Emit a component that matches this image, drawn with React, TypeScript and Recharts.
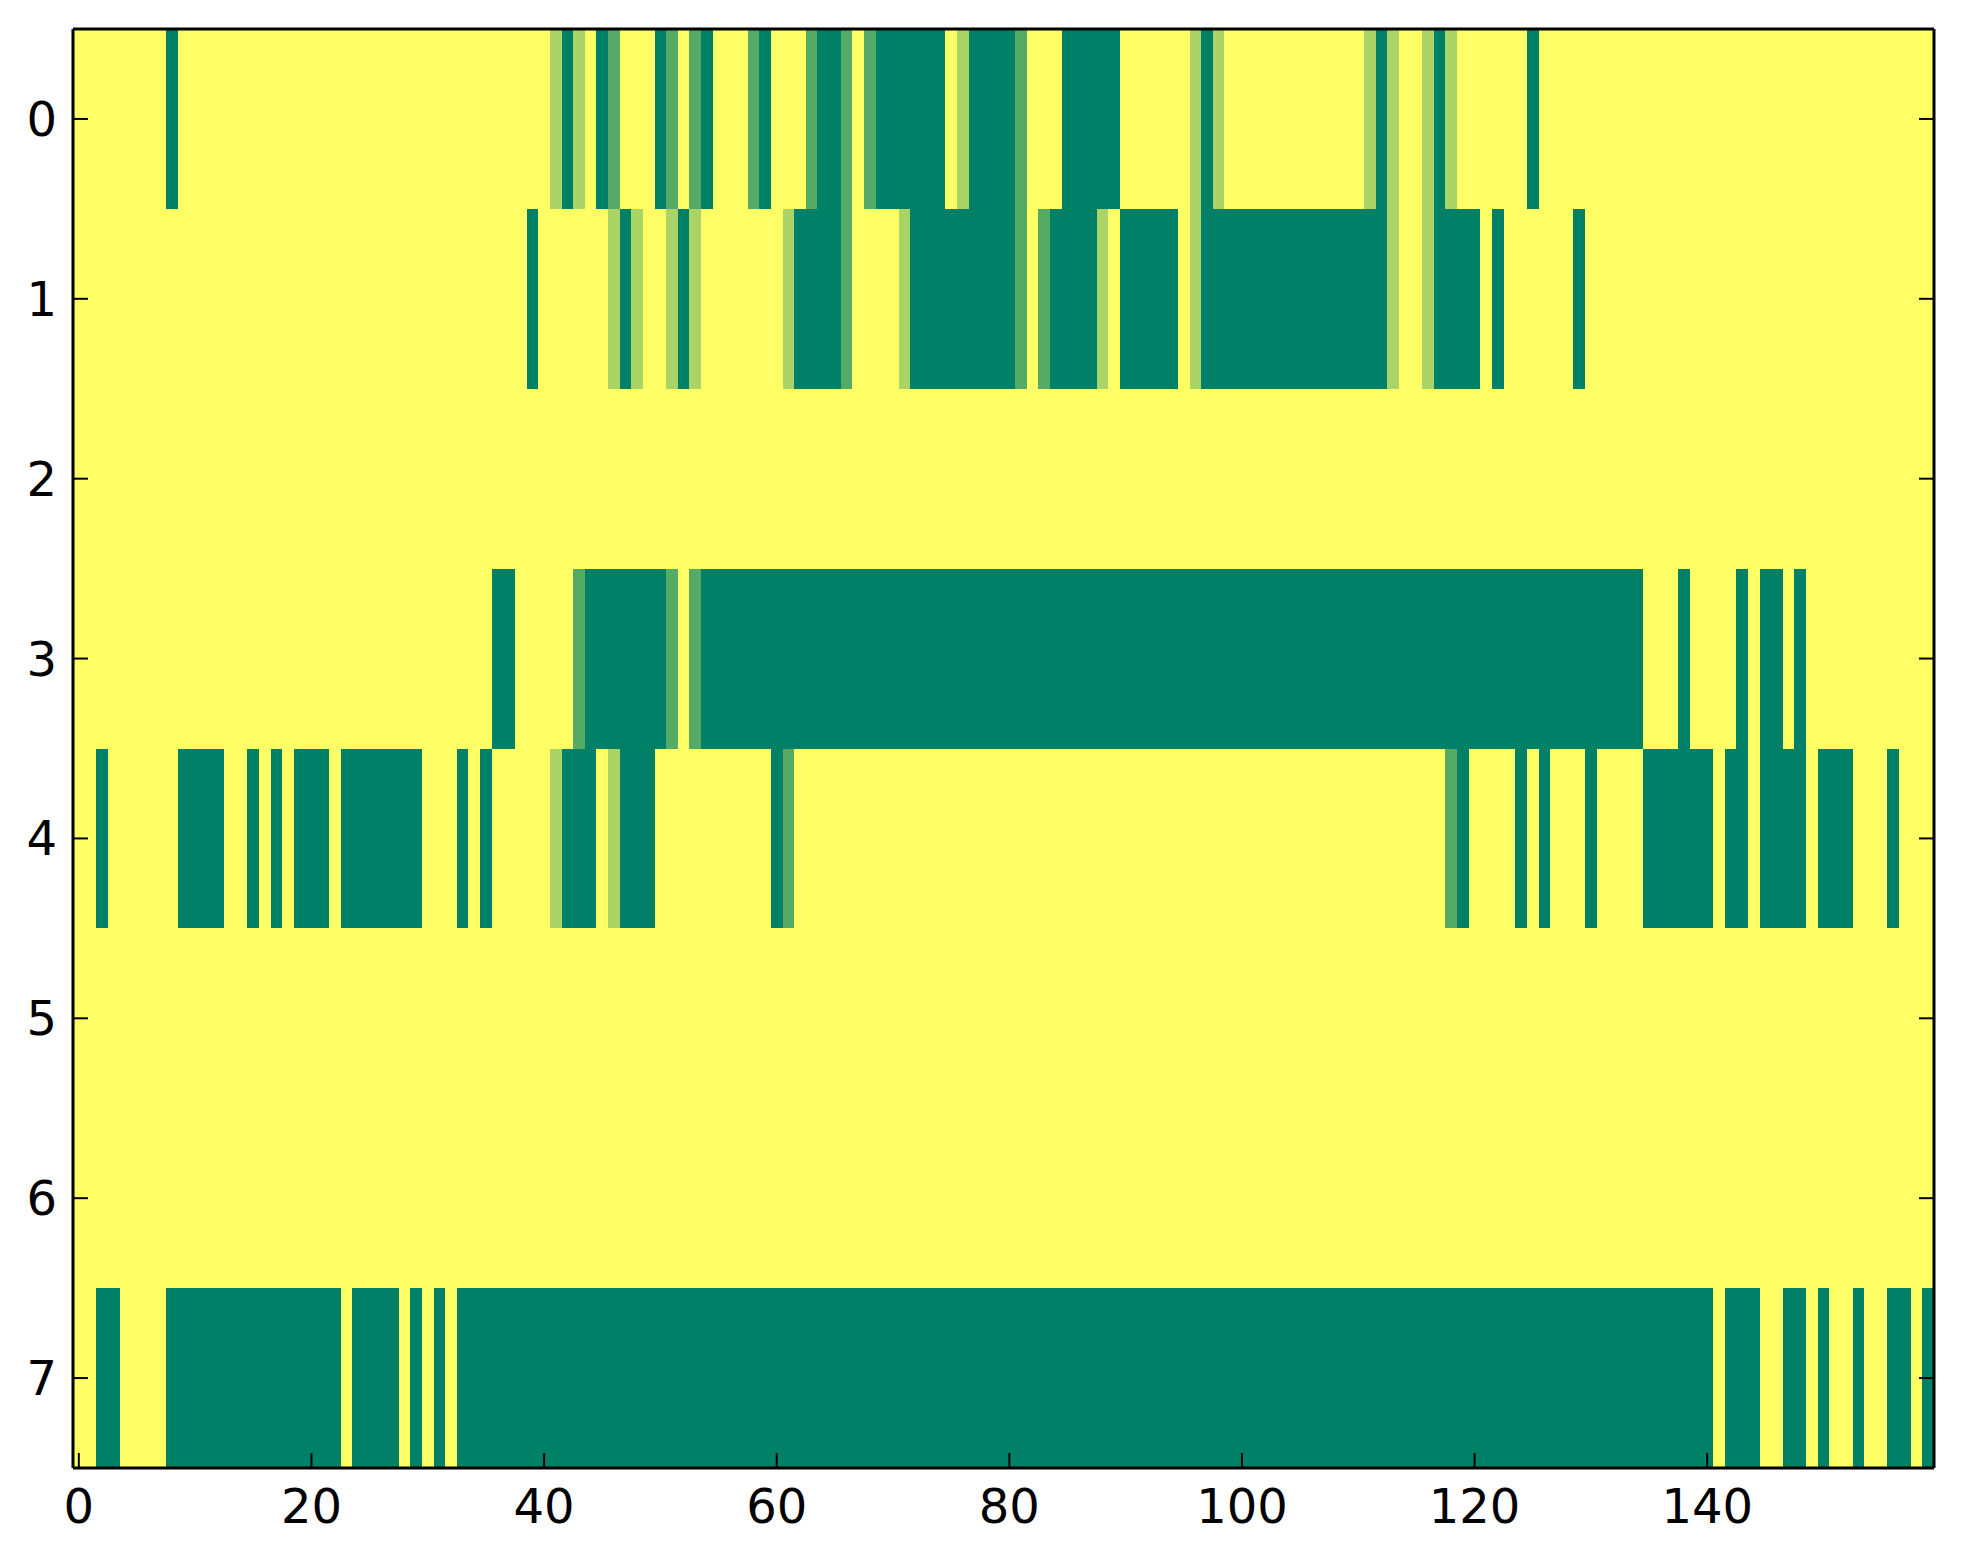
import React from 'react';
import { ScatterChart, Scatter, XAxis, YAxis } from 'recharts';

// level per cell: 0 = dark green, 1 = mid green, 2 = light green, 3 = yellow
// 160 columns per row, written 20 per line
const row0 = [
  3, 3, 3, 3, 3, 3, 3, 3, 0, 3, 3, 3, 3, 3, 3, 3, 3, 3, 3, 3,
  3, 3, 3, 3, 3, 3, 3, 3, 3, 3, 3, 3, 3, 3, 3, 3, 3, 3, 3, 3,
  3, 2, 0, 2, 3, 0, 1, 3, 3, 3, 0, 1, 3, 1, 0, 3, 3, 3, 1, 0,
  3, 3, 3, 1, 0, 0, 1, 3, 1, 0, 0, 0, 0, 0, 0, 3, 2, 0, 0, 0,
  0, 1, 3, 3, 3, 0, 0, 0, 0, 0, 3, 3, 3, 3, 3, 3, 2, 0, 2, 3,
  3, 3, 3, 3, 3, 3, 3, 3, 3, 3, 3, 2, 0, 2, 3, 3, 2, 0, 2, 3,
  3, 3, 3, 3, 3, 0, 3, 3, 3, 3, 3, 3, 3, 3, 3, 3, 3, 3, 3, 3,
  3, 3, 3, 3, 3, 3, 3, 3, 3, 3, 3, 3, 3, 3, 3, 3, 3, 3, 3, 3,
];
const row1 = [
  3, 3, 3, 3, 3, 3, 3, 3, 3, 3, 3, 3, 3, 3, 3, 3, 3, 3, 3, 3,
  3, 3, 3, 3, 3, 3, 3, 3, 3, 3, 3, 3, 3, 3, 3, 3, 3, 3, 3, 0,
  3, 3, 3, 3, 3, 3, 2, 0, 2, 3, 3, 2, 0, 2, 3, 3, 3, 3, 3, 3,
  3, 2, 0, 0, 0, 0, 1, 3, 3, 3, 3, 2, 0, 0, 0, 0, 0, 0, 0, 0,
  0, 1, 3, 1, 0, 0, 0, 0, 2, 3, 0, 0, 0, 0, 0, 3, 2, 0, 0, 0,
  0, 0, 0, 0, 0, 0, 0, 0, 0, 0, 0, 0, 0, 2, 3, 3, 2, 0, 0, 0,
  0, 3, 0, 3, 3, 3, 3, 3, 3, 0, 3, 3, 3, 3, 3, 3, 3, 3, 3, 3,
  3, 3, 3, 3, 3, 3, 3, 3, 3, 3, 3, 3, 3, 3, 3, 3, 3, 3, 3, 3,
];
const row2 = [
  3, 3, 3, 3, 3, 3, 3, 3, 3, 3, 3, 3, 3, 3, 3, 3, 3, 3, 3, 3,
  3, 3, 3, 3, 3, 3, 3, 3, 3, 3, 3, 3, 3, 3, 3, 3, 3, 3, 3, 3,
  3, 3, 3, 3, 3, 3, 3, 3, 3, 3, 3, 3, 3, 3, 3, 3, 3, 3, 3, 3,
  3, 3, 3, 3, 3, 3, 3, 3, 3, 3, 3, 3, 3, 3, 3, 3, 3, 3, 3, 3,
  3, 3, 3, 3, 3, 3, 3, 3, 3, 3, 3, 3, 3, 3, 3, 3, 3, 3, 3, 3,
  3, 3, 3, 3, 3, 3, 3, 3, 3, 3, 3, 3, 3, 3, 3, 3, 3, 3, 3, 3,
  3, 3, 3, 3, 3, 3, 3, 3, 3, 3, 3, 3, 3, 3, 3, 3, 3, 3, 3, 3,
  3, 3, 3, 3, 3, 3, 3, 3, 3, 3, 3, 3, 3, 3, 3, 3, 3, 3, 3, 3,
];
const row3 = [
  3, 3, 3, 3, 3, 3, 3, 3, 3, 3, 3, 3, 3, 3, 3, 3, 3, 3, 3, 3,
  3, 3, 3, 3, 3, 3, 3, 3, 3, 3, 3, 3, 3, 3, 3, 3, 0, 0, 3, 3,
  3, 3, 3, 1, 0, 0, 0, 0, 0, 0, 0, 1, 3, 1, 0, 0, 0, 0, 0, 0,
  0, 0, 0, 0, 0, 0, 0, 0, 0, 0, 0, 0, 0, 0, 0, 0, 0, 0, 0, 0,
  0, 0, 0, 0, 0, 0, 0, 0, 0, 0, 0, 0, 0, 0, 0, 0, 0, 0, 0, 0,
  0, 0, 0, 0, 0, 0, 0, 0, 0, 0, 0, 0, 0, 0, 0, 0, 0, 0, 0, 0,
  0, 0, 0, 0, 0, 0, 0, 0, 0, 0, 0, 0, 0, 0, 0, 3, 3, 3, 0, 3,
  3, 3, 3, 0, 3, 0, 0, 3, 0, 3, 3, 3, 3, 3, 3, 3, 3, 3, 3, 3,
];
const row4 = [
  3, 3, 0, 3, 3, 3, 3, 3, 3, 0, 0, 0, 0, 3, 3, 0, 3, 0, 3, 0,
  0, 0, 3, 0, 0, 0, 0, 0, 0, 0, 3, 3, 3, 0, 3, 0, 3, 3, 3, 3,
  3, 2, 0, 0, 0, 3, 2, 0, 0, 0, 3, 3, 3, 3, 3, 3, 3, 3, 3, 3,
  0, 1, 3, 3, 3, 3, 3, 3, 3, 3, 3, 3, 3, 3, 3, 3, 3, 3, 3, 3,
  3, 3, 3, 3, 3, 3, 3, 3, 3, 3, 3, 3, 3, 3, 3, 3, 3, 3, 3, 3,
  3, 3, 3, 3, 3, 3, 3, 3, 3, 3, 3, 3, 3, 3, 3, 3, 3, 3, 1, 0,
  3, 3, 3, 3, 0, 3, 0, 3, 3, 3, 0, 3, 3, 3, 3, 0, 0, 0, 0, 0,
  0, 3, 0, 0, 3, 0, 0, 0, 0, 3, 0, 0, 0, 3, 3, 3, 0, 3, 3, 3,
];
const row5 = [
  3, 3, 3, 3, 3, 3, 3, 3, 3, 3, 3, 3, 3, 3, 3, 3, 3, 3, 3, 3,
  3, 3, 3, 3, 3, 3, 3, 3, 3, 3, 3, 3, 3, 3, 3, 3, 3, 3, 3, 3,
  3, 3, 3, 3, 3, 3, 3, 3, 3, 3, 3, 3, 3, 3, 3, 3, 3, 3, 3, 3,
  3, 3, 3, 3, 3, 3, 3, 3, 3, 3, 3, 3, 3, 3, 3, 3, 3, 3, 3, 3,
  3, 3, 3, 3, 3, 3, 3, 3, 3, 3, 3, 3, 3, 3, 3, 3, 3, 3, 3, 3,
  3, 3, 3, 3, 3, 3, 3, 3, 3, 3, 3, 3, 3, 3, 3, 3, 3, 3, 3, 3,
  3, 3, 3, 3, 3, 3, 3, 3, 3, 3, 3, 3, 3, 3, 3, 3, 3, 3, 3, 3,
  3, 3, 3, 3, 3, 3, 3, 3, 3, 3, 3, 3, 3, 3, 3, 3, 3, 3, 3, 3,
];
const row6 = [
  3, 3, 3, 3, 3, 3, 3, 3, 3, 3, 3, 3, 3, 3, 3, 3, 3, 3, 3, 3,
  3, 3, 3, 3, 3, 3, 3, 3, 3, 3, 3, 3, 3, 3, 3, 3, 3, 3, 3, 3,
  3, 3, 3, 3, 3, 3, 3, 3, 3, 3, 3, 3, 3, 3, 3, 3, 3, 3, 3, 3,
  3, 3, 3, 3, 3, 3, 3, 3, 3, 3, 3, 3, 3, 3, 3, 3, 3, 3, 3, 3,
  3, 3, 3, 3, 3, 3, 3, 3, 3, 3, 3, 3, 3, 3, 3, 3, 3, 3, 3, 3,
  3, 3, 3, 3, 3, 3, 3, 3, 3, 3, 3, 3, 3, 3, 3, 3, 3, 3, 3, 3,
  3, 3, 3, 3, 3, 3, 3, 3, 3, 3, 3, 3, 3, 3, 3, 3, 3, 3, 3, 3,
  3, 3, 3, 3, 3, 3, 3, 3, 3, 3, 3, 3, 3, 3, 3, 3, 3, 3, 3, 3,
];
const row7 = [
  3, 3, 0, 0, 3, 3, 3, 3, 0, 0, 0, 0, 0, 0, 0, 0, 0, 0, 0, 0,
  0, 0, 0, 3, 0, 0, 0, 0, 3, 0, 3, 0, 3, 0, 0, 0, 0, 0, 0, 0,
  0, 0, 0, 0, 0, 0, 0, 0, 0, 0, 0, 0, 0, 0, 0, 0, 0, 0, 0, 0,
  0, 0, 0, 0, 0, 0, 0, 0, 0, 0, 0, 0, 0, 0, 0, 0, 0, 0, 0, 0,
  0, 0, 0, 0, 0, 0, 0, 0, 0, 0, 0, 0, 0, 0, 0, 0, 0, 0, 0, 0,
  0, 0, 0, 0, 0, 0, 0, 0, 0, 0, 0, 0, 0, 0, 0, 0, 0, 0, 0, 0,
  0, 0, 0, 0, 0, 0, 0, 0, 0, 0, 0, 0, 0, 0, 0, 0, 0, 0, 0, 0,
  0, 3, 0, 0, 0, 3, 3, 0, 0, 3, 0, 3, 3, 0, 3, 3, 0, 0, 3, 0,
];

const rows = [row0, row1, row2, row3, row4, row5, row6, row7];

const xTicks = [0, 20, 40, 60, 80, 100, 120, 140];
const yTicks = [0, 1, 2, 3, 4, 5, 6, 7];

// summer colormap, sampled at the 4 levels
const levelColors: Record<number, string> = {
  0: '#008066',
  1: '#55aa66',
  2: '#aad466',
  3: '#ffff66',
};

const CHART_W = 1947;
const CHART_H = 1548;
const margin = { top: 20, right: 20, bottom: 28, left: 5 };
const Y_AXIS_W = 60;
const X_AXIS_H = 60;
const SIDE_AXIS = 1;
const plotW = CHART_W - margin.left - margin.right - Y_AXIS_W - SIDE_AXIS;
const plotH = CHART_H - margin.top - margin.bottom - X_AXIS_H - SIDE_AXIS;
const nCols = row0.length;
const cellW = plotW / nCols;
const cellH = plotH / rows.length;

const cells = rows.flatMap((vals, r) => vals.map((v, c) => ({ col: c, row: r, level: v })));

const HeatCell = (props: any) => {
  const { cx, cy, payload } = props;
  if (cx == null || cy == null) return null;
  return (
    <rect
      x={cx - cellW / 2}
      y={cy - cellH / 2}
      width={cellW}
      height={cellH}
      fill={levelColors[payload.level]}
      shapeRendering="crispEdges"
    />
  );
};

const font = { fill: '#000', fontSize: 48, fontFamily: 'DejaVu Sans' };
const spine = { stroke: '#000', strokeWidth: 3 };
const tickMark = { stroke: '#000', strokeWidth: 2 };
const blank = () => '';

// the same four axes in both layers; `show` turns lines and labels on
function axes(show: boolean) {
  const line = show ? spine : false;
  const mark = show ? tickMark : false;
  return [
    <XAxis
      key="x"
      dataKey="col"
      type="number"
      domain={[-0.5, nCols - 0.5]}
      ticks={xTicks}
      interval={0}
      allowDataOverflow
      height={X_AXIS_H}
      tickSize={-15}
      tickMargin={36}
      axisLine={line}
      tickLine={mark}
      tick={show ? font : false}
    />,
    <XAxis
      key="xt"
      xAxisId="top"
      orientation="top"
      type="number"
      domain={[-0.5, nCols - 0.5]}
      ticks={xTicks}
      interval={0}
      allowDataOverflow
      height={SIDE_AXIS}
      tickSize={-15}
      tickFormatter={blank}
      axisLine={line}
      tickLine={mark}
    />,
    <YAxis
      key="y"
      dataKey="row"
      type="number"
      reversed
      domain={[-0.5, rows.length - 0.5]}
      ticks={yTicks}
      interval={0}
      allowDataOverflow
      width={Y_AXIS_W}
      tickSize={-15}
      tickMargin={31}
      axisLine={line}
      tickLine={mark}
      tick={show ? font : false}
    />,
    <YAxis
      key="yr"
      yAxisId="right"
      orientation="right"
      type="number"
      reversed
      domain={[-0.5, rows.length - 0.5]}
      ticks={yTicks}
      interval={0}
      allowDataOverflow
      width={SIDE_AXIS}
      tickSize={-15}
      tickFormatter={blank}
      axisLine={line}
      tickLine={mark}
    />,
  ];
}

export default function App() {
  return (
    <div style={{ position: 'relative', width: CHART_W, height: CHART_H }}>
      <ScatterChart width={CHART_W} height={CHART_H} margin={margin}>
        {axes(false)}
        <Scatter data={cells} shape={HeatCell} isAnimationActive={false} />
      </ScatterChart>
      {/* frame, ticks and labels drawn above the cells */}
      <div style={{ position: 'absolute', left: 0, top: 0, pointerEvents: 'none' }}>
        <ScatterChart width={CHART_W} height={CHART_H} margin={margin}>
          {axes(true)}
        </ScatterChart>
      </div>
    </div>
  );
}
